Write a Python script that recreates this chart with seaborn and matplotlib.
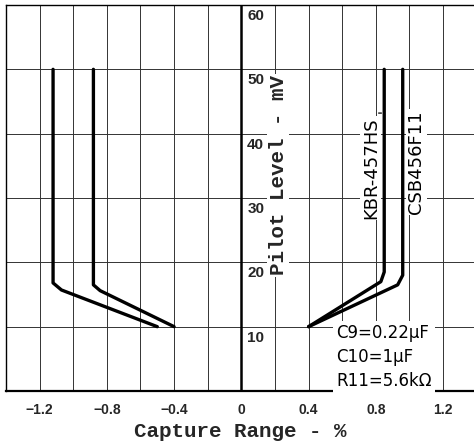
import matplotlib
matplotlib.use("Agg")
import matplotlib.pyplot as plt
import seaborn as sns
from matplotlib.ticker import MultipleLocator

# Curvas (capture range %, pilot level mV)
left_outer_x = [-1.12, -1.12, -1.07, -0.50]
left_outer_y = [50, 16.8, 15.7, 10]
left_inner_x = [-0.88, -0.88, -0.84, -0.40]
left_inner_y = [50, 16.5, 15.6, 10]
kbr_x = [0.85, 0.85, 0.83, 0.40]
kbr_y = [50, 18.5, 17.0, 10]
csb_x = [0.96, 0.96, 0.93, 0.40]
csb_y = [50, 18.0, 16.5, 10]

x_ticks = [-1.2, -0.8, -0.4, 0, 0.4, 0.8, 1.2]
x_tick_labels = ["\u22121.2", "\u22120.8", "\u22120.4", "0", "0.4", "0.8", "1.2"]
y_ticks = [10, 20, 30, 40, 50, 60]
note_lines = ["C9=0.22\u03bcF", "C10=1\u03bcF", "R11=5.6k\u03a9"]

sns.set_theme(style="white")
plt.rcParams["font.family"] = ["DejaVu Sans"]

fig = plt.figure(figsize=(4.74, 4.43), dpi=100)
ax = fig.add_axes([6 / 474, 1 - 391 / 443, 469 / 474, 386 / 443])

for xs, ys in [(left_outer_x, left_outer_y), (left_inner_x, left_inner_y),
               (kbr_x, kbr_y), (csb_x, csb_y)]:
    sns.lineplot(x=xs, y=ys, sort=False, estimator=None, color="black",
                 lw=2.4, ax=ax, zorder=4)

ax.set_xlim(-1.4, 1.39)
ax.set_ylim(0, 60)

# rejilla
ax.xaxis.set_major_locator(MultipleLocator(0.4))
ax.xaxis.set_minor_locator(MultipleLocator(0.2))
ax.set_yticks(y_ticks)
ax.set_yticklabels([])
ax.grid(which="both", color="0.2", lw=0.7)
ax.axvline(0, color="black", lw=1.8, zorder=3)
for s in ax.spines.values():
    s.set_color("black")
    s.set_linewidth(1.0)
ax.spines["bottom"].set_linewidth(1.6)

ax.set_xticks(x_ticks)
ax.set_xticklabels(x_tick_labels, family="Liberation Sans", weight="bold", size=10)
ax.tick_params(axis="both", which="both", length=0)
ax.tick_params(axis="x", pad=9)

# etiquetas del eje y dentro del grafico
for v in y_ticks:
    ax.text(0.035, v - 0.6, str(v), ha="left", va="top",
            family="Liberation Sans", weight="bold", size=11, zorder=5)

ax.set_xlabel("Capture Range - %", family="Liberation Mono", weight="bold",
              size=15, labelpad=3)
ax.set_ylabel("")
ax.text(0.22, 33.5, "Pilot Level - mV", rotation=90, ha="center", va="center",
        family="Liberation Mono", weight="bold", size=15, zorder=5,
        bbox=dict(facecolor="white", edgecolor="none", pad=1))

# nombres de las curvas
ax.text(0.77, 34.7, "KBR-457HS", rotation=90, ha="center", va="center",
        size=13, color="black", zorder=5,
        bbox=dict(facecolor="white", edgecolor="none", pad=1))
ax.text(1.04, 35.6, "CSB456F11", rotation=90, ha="center", va="center",
        size=13, color="black", zorder=5,
        bbox=dict(facecolor="white", edgecolor="none", pad=1))
ax.annotate("", xy=(kbr_x[0], 43.2), xytext=(0.80, 43.2),
            arrowprops=dict(arrowstyle="-", color="black", lw=0.9))

ax.text(0.565, 5.3, "\n".join(note_lines), ha="left", va="center", size=12,
        color="black", linespacing=1.45, zorder=5,
        bbox=dict(facecolor="white", edgecolor="none", pad=2))

fig.savefig("out.png", dpi=100)
